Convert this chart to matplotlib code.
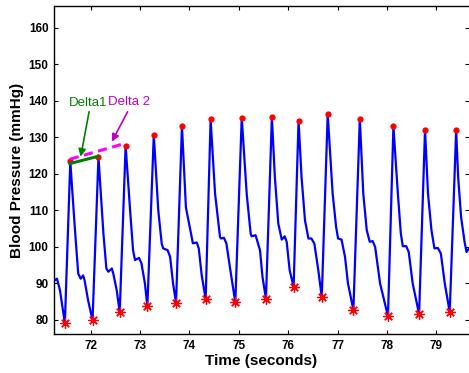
import matplotlib
matplotlib.use("Agg")
import matplotlib.pyplot as plt

plt.rcParams['font.family'] = ['Liberation Sans', 'DejaVu Sans']

# blood pressure trace (time s, pressure mmHg)
bp_time = [71.26, 71.32, 71.38, 71.48, 71.59, 71.68, 71.75, 71.80, 71.85, 71.88, 71.95,
           72.04, 72.16, 72.26, 72.32, 72.36, 72.43, 72.46, 72.53,
           72.59, 72.71, 72.80, 72.86, 72.90, 72.98, 73.03, 73.10,
           73.15, 73.28, 73.37, 73.44, 73.47, 73.56, 73.61, 73.67,
           73.73, 73.85, 73.93, 74.04, 74.07, 74.15, 74.19, 74.25,
           74.33, 74.43, 74.52, 74.62, 74.64, 74.70, 74.75, 74.82,
           74.93, 75.06, 75.16, 75.24, 75.26, 75.34, 75.39, 75.43, 75.48,
           75.55, 75.67, 75.73, 75.80, 75.87, 75.93, 75.97, 76.03,
           76.11, 76.21, 76.27, 76.34, 76.41, 76.47, 76.53, 76.61,
           76.68, 76.80, 76.90, 76.97, 77.01, 77.08, 77.15, 77.21,
           77.32, 77.45, 77.52, 77.59, 77.65, 77.71, 77.76, 77.86,
           78.02, 78.13, 78.22, 78.28, 78.32, 78.39, 78.44, 78.52,
           78.65, 78.77, 78.83, 78.90, 78.96, 79.03, 79.09, 79.17,
           79.27, 79.40, 79.44, 79.50, 79.57, 79.61, 79.66]
bp_value = [90.7, 91.3, 88.2, 79.1, 123.4, 105.5, 92.7, 91.3, 92.2, 90.8, 85.4,
            79.9, 124.6, 103.7, 94.1, 93.2, 94.1, 92.7, 88.1,
            82.1, 127.7, 110.1, 99.1, 96.4, 97.0, 95.5, 90.0,
            83.7, 130.7, 110.1, 100.9, 99.6, 99.1, 97.3, 90.0,
            84.7, 133.1, 110.8, 103.2, 101.0, 101.2, 99.6, 92.2,
            85.7, 134.9, 114.6, 102.7, 102.3, 102.5, 100.9, 94.5,
            84.8, 135.4, 114.6, 103.7, 102.9, 103.2, 100.9, 99.1, 91.8,
            85.8, 135.5, 119.2, 106.4, 102.0, 102.9, 101.4, 93.6,
            89.1, 134.6, 119.2, 107.3, 102.3, 102.3, 100.9, 93.6,
            86.2, 136.4, 114.6, 105.5, 102.3, 102.0, 97.3, 90.0,
            82.7, 135.1, 114.6, 104.6, 101.4, 101.6, 100.0, 90.0,
            81.0, 133.0, 114.6, 103.7, 100.2, 100.2, 98.6, 90.0,
            81.6, 132.1, 114.6, 104.6, 99.6, 99.7, 98.2, 90.0,
            82.1, 131.9, 119.2, 108.2, 101.4, 98.6, 99.6]

# systolic peaks
peak_time = [71.59, 72.16, 72.71, 73.28, 73.85, 74.43, 75.06, 75.67, 76.21,
             76.80, 77.45, 78.13, 78.77, 79.40]
peak_value = [123.4, 124.6, 127.7, 130.7, 133.1, 134.9, 135.4, 135.5, 134.6,
              136.4, 135.1, 133.0, 132.1, 131.9]

# diastolic troughs
trough_time = [71.48, 72.04, 72.59, 73.15, 73.73, 74.33, 74.93, 75.55, 76.11,
               76.68, 77.32, 78.02, 78.65, 79.27]
trough_value = [79.1, 79.9, 82.1, 83.7, 84.7, 85.7, 84.8, 85.8, 89.1,
                86.2, 82.7, 81.0, 81.6, 82.1]

# delta lines
delta1_t = [71.58, 72.15]
delta1_v = [122.8, 124.8]
delta2_t = [71.58, 72.69]
delta2_v = [124.0, 128.3]

fig = plt.figure(figsize=(4.69, 3.73), dpi=100)
ax = fig.add_axes([54 / 469, 1 - 334 / 373, 1 - 54 / 469, (334 - 6) / 373])

ax.plot(bp_time, bp_value, color="#0000ff", lw=1.6, zorder=2)
ax.plot(peak_time, peak_value, "o", color="#ff0000", ms=4.5, mec="none", zorder=3)
ax.plot(trough_time, trough_value, marker=(8, 2, 0), ls="none", color="#ff0000",
        ms=7.5, mew=0.9, zorder=3)

ax.plot(delta1_t, delta1_v, color="#008000", lw=2.2, zorder=4)
ax.plot(delta2_t, delta2_v, color="#ff00ff", lw=2.2, ls=(0, (3, 1.8)), zorder=4)

ax.annotate("", xy=(71.80, 124.7), xytext=(71.97, 137.0),
            arrowprops=dict(arrowstyle="-|>", color="#008000", lw=1.2,
                            mutation_scale=11, shrinkA=0, shrinkB=0))
ax.annotate("", xy=(72.43, 128.8), xytext=(72.75, 137.0),
            arrowprops=dict(arrowstyle="-|>", color="#bf00bf", lw=1.2,
                            mutation_scale=11, shrinkA=0, shrinkB=0))
ax.text(71.95, 139.3, "Delta1", color="#008000", fontsize=9.5, ha="center", va="center")
ax.text(72.78, 139.8, "Delta 2", color="#c000c0", fontsize=9.5, ha="center", va="center")

ax.set_xlim(71.26, 79.66)
ax.set_ylim(76.16, 165.95)
ax.set_xticks(range(72, 80))
ax.set_yticks(range(80, 161, 10))
ax.tick_params(direction="in", length=3, width=0.8, top=True, right=True,
               labelsize=8.5, pad=4)
for lab in ax.get_xticklabels() + ax.get_yticklabels():
    lab.set_fontweight("bold")
for s in ["left", "bottom", "top"]:
    ax.spines[s].set_linewidth(1.0)
ax.spines["right"].set_visible(False)

ax.set_xlabel("Time (seconds)", fontsize=11, fontweight="bold", labelpad=2)
ax.set_ylabel("Blood Pressure (mmHg)", fontsize=11, fontweight="bold", labelpad=3)

fig.savefig("out.png", dpi=100)
